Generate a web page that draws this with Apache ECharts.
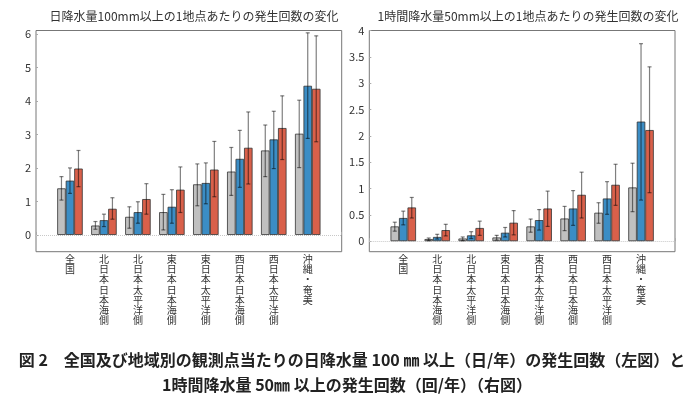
<!DOCTYPE html>
<html>
<head>
<meta charset="utf-8">
<script src="https://cdn.jsdelivr.net/npm/echarts@6/dist/echarts.min.js"></script>
<style>
  html, body { margin: 0; padding: 0; background: #fff; }
  #chart { width: 700px; height: 398px; }
</style>
</head>
<body>
<div id="chart"></div>
<script>
// 地域
var regions = ['全国', '北日本日本海側', '北日本太平洋側', '東日本日本海側', '東日本太平洋側', '西日本日本海側', '西日本太平洋側', '沖縄・奄美']

// 左図: 日降水量100mm以上
var dayGrey = [1.39, 0.28, 0.54, 0.68, 1.51, 1.89, 2.52, 3.02]
var dayBlue = [1.62, 0.44, 0.68, 0.84, 1.55, 2.27, 2.85, 4.45]
var dayRed = [1.98, 0.78, 1.07, 1.35, 1.95, 2.60, 3.19, 4.36]
var dayGreyErr = [[1.04, 1.74], [0.17, 0.40], [0.20, 0.84], [0.15, 1.21], [0.87, 2.12], [1.18, 2.61], [1.74, 3.28], [2.01, 4.02]]
var dayBlueErr = [[1.24, 2.00], [0.25, 0.62], [0.35, 0.99], [0.35, 1.35], [0.93, 2.15], [1.42, 3.12], [1.98, 3.69], [2.88, 6.03]]
var dayRedErr = [[1.44, 2.52], [0.47, 1.11], [0.62, 1.53], [0.67, 2.03], [1.14, 2.79], [1.52, 3.67], [2.25, 4.15], [2.78, 5.94]]

// 右図: 1時間降水量50mm以上
var hourGrey = [0.28, 0.04, 0.05, 0.07, 0.28, 0.43, 0.54, 1.02]
var hourBlue = [0.44, 0.08, 0.11, 0.16, 0.40, 0.62, 0.81, 2.27]
var hourRed = [0.64, 0.21, 0.25, 0.35, 0.62, 0.88, 1.07, 2.11]
var hourGreyErr = [[0.19, 0.36], [0.01, 0.06], [0.01, 0.08], [0.02, 0.11], [0.17, 0.42], [0.20, 0.66], [0.34, 0.73], [0.56, 1.48]]
var hourBlueErr = [[0.31, 0.57], [0.04, 0.13], [0.05, 0.18], [0.08, 0.26], [0.21, 0.60], [0.30, 0.96], [0.51, 1.13], [0.78, 3.75]]
var hourRedErr = [[0.44, 0.83], [0.10, 0.32], [0.11, 0.38], [0.12, 0.58], [0.28, 0.95], [0.44, 1.31], [0.68, 1.46], [0.92, 3.31]]

var dayTicks = [0, 1, 2, 3, 4, 5, 6]
var hourTicks = [0, 0.5, 1, 1.5, 2, 2.5, 3, 3.5, 4]

var colors = ['#c0c0c0', '#3b8dc5', '#d9604a']
var barW = 8.5
var FONT = '"Noto Sans CJK JP", "Noto Sans", sans-serif'

// 両端に空のカテゴリを入れて間隔を合わせる
var cats = [''].concat(regions).concat([''])
function pad(arr) {
  return ['-'].concat(arr).concat(['-'])
}

function barSeries(vals, idx, grid, zeroLine) {
  var s = {
    type: 'bar',
    xAxisIndex: grid,
    yAxisIndex: grid,
    data: pad(vals),
    barWidth: barW,
    barGap: '0%',
    itemStyle: {
      color: colors[idx],
      borderColor: '#333',
      borderWidth: 0.8
    },
    z: 3
  }
  if (zeroLine) {
    s.markLine = {
      silent: true,
      symbol: 'none',
      label: { show: false },
      lineStyle: { color: '#c8c8c8', type: 'dotted', width: 1 },
      data: [{ yAxis: 0 }],
      z: 1
    }
  }
  return s
}

function errSeries(err, idx, grid) {
  return {
    type: 'custom',
    xAxisIndex: grid,
    yAxisIndex: grid,
    data: err.map(function (e, i) { return [i + 1, e[0], e[1]] }),
    renderItem: function (params, api) {
      var lo = api.coord([api.value(0), api.value(1)])
      var hi = api.coord([api.value(0), api.value(2)])
      var x = lo[0] + (idx - 1) * barW
      var cap = 2
      var st = { stroke: 'rgba(0,0,0,0.5)', lineWidth: 1.2 }
      return {
        type: 'group',
        children: [
          { type: 'line', shape: { x1: x, y1: lo[1], x2: x, y2: hi[1] }, style: st },
          { type: 'line', shape: { x1: x - cap, y1: lo[1], x2: x + cap, y2: lo[1] }, style: st },
          { type: 'line', shape: { x1: x - cap, y1: hi[1], x2: x + cap, y2: hi[1] }, style: st }
        ]
      }
    },
    z: 5,
    silent: true
  }
}

function xAxis(grid) {
  return {
    type: 'category',
    gridIndex: grid,
    data: cats,
    boundaryGap: false,
    axisLine: { show: false },
    axisTick: { show: true, inside: true, length: 3, interval: 0, lineStyle: { color: '#aaa' } },
    axisLabel: {
      interval: 0,
      margin: 2,
      color: '#333',
      fontSize: 10,
      lineHeight: 10.3,
      fontFamily: FONT,
      verticalAlign: 'top',
      formatter: function (v) { return v.split('').join('\n') }
    }
  }
}

function yAxis(grid, min, max, ticks) {
  return {
    type: 'value',
    gridIndex: grid,
    min: min,
    max: max,
    axisLine: { show: false },
    splitLine: { show: false },
    axisTick: { show: true, inside: true, length: 2, customValues: ticks, lineStyle: { color: '#aaa' } },
    axisLabel: {
      customValues: ticks,
      margin: 5,
      color: '#333',
      fontSize: 11,
      fontFamily: FONT
    }
  }
}

var chart = echarts.init(document.getElementById('chart'))

var option = {
  animation: false,
  title: [
    {
      text: '日降水量100mm以上の1地点あたりの発生回数の変化',
      left: 189, top: 5, textAlign: 'center',
      textStyle: { fontSize: 12, fontWeight: 'normal', color: '#333', fontFamily: FONT }
    },
    {
      text: '1時間降水量50mm以上の1地点あたりの発生回数の変化',
      left: 523, top: 5, textAlign: 'center',
      textStyle: { fontSize: 12, fontWeight: 'normal', color: '#333', fontFamily: FONT }
    },
    {
      text: '図 2　全国及び地域別の観測点当たりの日降水量 100 ㎜ 以上（日/年）の発生回数（左図）と',
      left: 347, top: 347, textAlign: 'center',
      textStyle: { fontSize: 16, fontWeight: 'bold', color: '#222', fontFamily: FONT }
    },
    {
      text: '1時間降水量 50㎜ 以上の発生回数（回/年）（右図）',
      left: 342, top: 372, textAlign: 'center',
      textStyle: { fontSize: 16, fontWeight: 'bold', color: '#222', fontFamily: FONT }
    }
  ],
  grid: [
    { left: 36, top: 30.5, width: 305.7, height: 221.2, show: true, borderColor: '#777', borderWidth: 1, backgroundColor: 'transparent' },
    { left: 369.3, top: 30.5, width: 305.7, height: 221.2, show: true, borderColor: '#777', borderWidth: 1, backgroundColor: 'transparent' }
  ],
  xAxis: [xAxis(0), xAxis(1)],
  yAxis: [yAxis(0, -0.5, 6.1, dayTicks), yAxis(1, -0.2, 4, hourTicks)],
  series: [
    barSeries(dayGrey, 0, 0, true),
    barSeries(dayBlue, 1, 0),
    barSeries(dayRed, 2, 0),
    errSeries(dayGreyErr, 0, 0),
    errSeries(dayBlueErr, 1, 0),
    errSeries(dayRedErr, 2, 0),
    barSeries(hourGrey, 0, 1, true),
    barSeries(hourBlue, 1, 1),
    barSeries(hourRed, 2, 1),
    errSeries(hourGreyErr, 0, 1),
    errSeries(hourBlueErr, 1, 1),
    errSeries(hourRedErr, 2, 1)
  ]
}

chart.setOption(option)
</script>
</body>
</html>
